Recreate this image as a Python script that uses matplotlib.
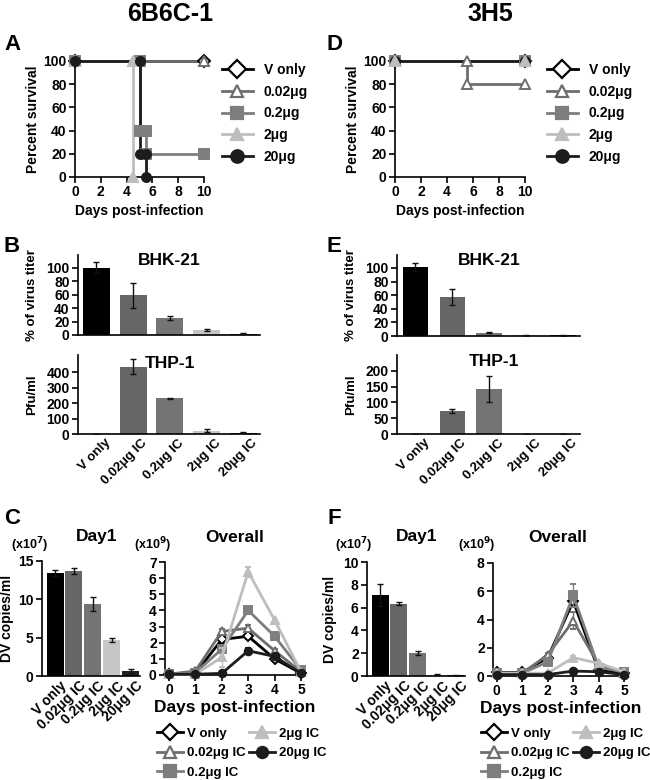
import matplotlib
matplotlib.use("Agg")

import numpy as np
import matplotlib.pyplot as plt
from matplotlib.lines import Line2D
from matplotlib.transforms import ScaledTranslation

plt.rcParams['font.family'] = ['Liberation Sans', 'DejaVu Sans']
plt.rcParams['font.weight'] = 'bold'
plt.rcParams['axes.labelweight'] = 'bold'
plt.rcParams['axes.linewidth'] = 1.2

# ---- data ----
groups = ["V only", "0.02μg", "0.2μg", "2μg", "20μg"]
ic_labels = ["V only", "0.02μg IC", "0.2μg IC", "2μg IC", "20μg IC"]
line_colors = ["#000000", "#6e6e6e", "#7e7e7e", "#bebebe", "#1c1c1c"]
bar_colors = ["#000000", "#666666", "#747474", "#c6c6c6", "#202020"]
markers = ["D", "^", "s", "^", "o"]
marker_faces = ["white", "white", None, None, None]

# survival (Kaplan-Meier steps)
surv_6b6c_t = [[0, 10], [0, 10], [0, 5, 5, 5.5, 5.5, 10], [0, 4.5, 4.5], [0, 5, 5, 5.5, 5.5]]
surv_6b6c_s = [[100, 100], [100, 100], [100, 100, 40, 40, 20, 20], [100, 100, 0], [100, 100, 20, 20, 0]]
surv_3h5_t = [[0, 10], [0, 5.5, 5.5, 10], [0, 10], [0, 10], [0, 10]]
surv_3h5_s = [[100, 100], [100, 100, 80, 80], [100, 100], [100, 100], [100, 100]]

# neutralization / ADE
bhk_6b6c = [100, 59, 25, 7, 2]
bhk_6b6c_err = [8, 19, 3, 1.2, 0.8]
thp_6b6c = [0, 435, 232, 20, 8]
thp_6b6c_err = [0, 48, 3, 10, 3]
bhk_3h5 = [101, 57, 5, 1, 1]
bhk_3h5_err = [6, 12, 1, 0.4, 0.4]
thp_3h5 = [0, 73, 142, 0, 0]
thp_3h5_err = [0, 6, 42, 0, 0]

# viremia day 1 (x10^7)
day1_6b6c = [13.4, 13.7, 9.4, 4.7, 0.6]
day1_6b6c_err = [0.4, 0.35, 0.9, 0.3, 0.25]
day1_3h5 = [7.1, 6.35, 2.0, 0.1, 0.05]
day1_3h5_err = [1.0, 0.15, 0.15, 0.05, 0.03]

# viremia overall (x10^9)
days = [0, 1, 2, 3, 4, 5]
over_6b6c = [[0.05, 0.1, 2.2, 2.4, 1.0, 0.1],
             [0.05, 0.25, 2.7, 2.9, 1.5, 0.2],
             [0.05, 0.15, 1.6, 4.0, 2.4, 0.3],
             [0.05, 0.05, 1.1, 6.4, 3.4, 0.2],
             [0.05, 0.05, 0.1, 1.5, 1.15, 0.1]]
over_6b6c_err = [[0, 0, 0.2, 0.2, 0.1, 0],
                 [0, 0, 0.15, 0.2, 0.1, 0],
                 [0, 0, 0.1, 0.2, 0, 0],
                 [0, 0, 0.6, 0.3, 0, 0],
                 [0, 0, 0, 0.2, 0.1, 0]]
over_3h5 = [[0.25, 0.25, 1.3, 5.3, 0.4, 0.2],
            [0.2, 0.2, 1.5, 3.9, 0.8, 0.2],
            [0.2, 0.2, 1.0, 5.7, 0.6, 0.3],
            [0.2, 0.2, 0.2, 1.3, 0.9, 0.3],
            [0.1, 0.1, 0.1, 0.35, 0.3, 0.1]]
over_3h5_err = [[0, 0, 0.1, 0.3, 0, 0],
                [0, 0, 0.1, 0.6, 0, 0],
                [0, 0, 0.1, 0.8, 0, 0],
                [0, 0, 0, 0.1, 0, 0],
                [0, 0, 0, 0.05, 0, 0]]

W, H = 650, 780
fig = plt.figure(figsize=(6.5, 7.8), dpi=100)


def box(l, r, b, t):
    return [l / W, 1 - b / H, (r - l) / W, (b - t) / H]


def ftext(x, y, s, size, **kw):
    fig.text(x / W, 1 - y / H, s, ha=kw.pop('ha', 'center'), va=kw.pop('va', 'center'),
             fontsize=size, fontweight='bold', **kw)


def style(ax, size=10):
    for s in ['top', 'right']:
        ax.spines[s].set_visible(False)
    ax.tick_params(direction='out', length=4, width=1.2, labelsize=size, pad=2)


def ylab(ax, s, px, size=9.5):
    ax.set_ylabel(s, fontsize=size)
    pos = ax.get_position()
    ax.yaxis.set_label_coords((px / W - pos.x0) / pos.width, 0.5)


def handles(ms):
    return [Line2D([], [], color=line_colors[i], lw=2, marker=markers[i], ms=ms,
                   mfc=marker_faces[i] or line_colors[i], mec=line_colors[i], mew=1.6)
            for i in range(5)]


def survival(ax, ts, ss, mk_order):
    for i in range(5):
        ax.plot(ts[i], ss[i], color=line_colors[i], lw=2, zorder=2, clip_on=False)
    for k, i in enumerate(mk_order):
        ax.plot(ts[i], ss[i], ls='none', marker=markers[i], ms=6.5, mew=1.4,
                mfc=marker_faces[i] or line_colors[i], mec=line_colors[i],
                zorder=3 + k, clip_on=False)
    ax.set_xlim(0, 10)
    ax.set_ylim(0, 100)
    ax.set_xticks([0, 2, 4, 6, 8, 10])
    ax.set_yticks([0, 20, 40, 60, 80, 100])
    ax.set_xlabel("Days post-infection", fontsize=10, labelpad=3)
    style(ax)


def bars(ax, vals, errs, ymax, yticks, width, xlim, labels=None, shift=8, size=9.5):
    x = np.arange(5)
    ax.bar(x, vals, width=width, color=bar_colors, edgecolor='none', zorder=2)
    ax.errorbar(x, vals, yerr=errs, fmt='none', ecolor='#111111', elinewidth=1,
                capsize=2.5, capthick=1, zorder=3)
    ax.set_xlim(*xlim)
    ax.set_ylim(0, ymax)
    ax.set_yticks(yticks)
    style(ax)
    ax.set_xticks(x)
    ax.tick_params(axis='x', length=0)
    if labels is None:
        ax.set_xticklabels([])
    else:
        ax.set_xticklabels(labels, rotation=45, ha='right', va='top',
                           rotation_mode='anchor', fontsize=size)
        for lb in ax.get_xticklabels():
            lb.set_transform(lb.get_transform() + ScaledTranslation(shift / 100, 0, fig.dpi_scale_trans))


def overall(ax, vals, errs, ymax):
    for i in range(5):
        ax.errorbar(days, vals[i], yerr=errs[i], color=line_colors[i], lw=2,
                    marker=markers[i], ms=5.5, mew=1.4, mfc=marker_faces[i] or line_colors[i],
                    mec=line_colors[i], elinewidth=1, capsize=2, ecolor=line_colors[i],
                    clip_on=False, zorder=2 + i)
    ax.set_xlim(-0.15, 5.15)
    ax.set_ylim(0, ymax)
    ax.set_xticks(days)
    style(ax, 10)
    ax.set_xlabel("Days post-infection", fontsize=12.5, labelpad=2)


# ---- A / D survival ----
axA = fig.add_axes(box(75, 204, 177, 61))
survival(axA, surv_6b6c_t, surv_6b6c_s, [0, 1, 2, 3, 4])
ylab(axA, "Percent survival", 40, 10)
axD = fig.add_axes(box(395, 525, 177, 61))
survival(axD, surv_3h5_t, surv_3h5_s, [0, 1, 2, 4, 3])
ylab(axD, "Percent survival", 360, 10)

for ax, x0 in [(axA, 215), (axD, 540)]:
    ax.legend(handles(9), groups, loc='upper left', bbox_to_anchor=(x0 / W, 1 - 56 / H),
              bbox_transform=fig.transFigure, frameon=False, fontsize=10, borderpad=0,
              handlelength=2.2, handletextpad=0.8, labelspacing=0.56)

# ---- B / E ----
xl = (-0.5, 4.45)
axB1 = fig.add_axes(box(78, 260, 335, 255))
bars(axB1, bhk_6b6c, bhk_6b6c_err, 119, [0, 20, 40, 60, 80, 100], 0.73, xl)
ylab(axB1, "% of virus titer", 38, 9.5)
axB2 = fig.add_axes(box(78, 260, 434, 355))
bars(axB2, thp_6b6c, thp_6b6c_err, 510, [0, 100, 200, 300, 400], 0.73, xl, ic_labels)
ylab(axB2, "Pfu/ml", 38, 9.5)

axE1 = fig.add_axes(box(397, 580, 336, 255))
bars(axE1, bhk_3h5, bhk_3h5_err, 119, [0, 20, 40, 60, 80, 100], 0.7, xl)
ylab(axE1, "% of virus titer", 357, 9.5)
axE2 = fig.add_axes(box(397, 580, 434, 355))
bars(axE2, thp_3h5, thp_3h5_err, 250, [0, 50, 100, 150, 200], 0.7, xl, ic_labels)
ylab(axE2, "Pfu/ml", 357, 9.5)

# ---- C / F ----
xd = (-0.69, 4.5)
axC1 = fig.add_axes(box(42, 140, 676, 561))
bars(axC1, day1_6b6c, day1_6b6c_err, 15, [0, 5, 10, 15], 0.9, xd, ic_labels, shift=5, size=10)
ylab(axC1, "DV copies/ml", 14, 10)
axC2 = fig.add_axes(box(165, 305, 675, 562))
overall(axC2, over_6b6c, over_6b6c_err, 7)
axC2.set_yticks(range(8))

axF1 = fig.add_axes(box(367, 465, 676, 562))
bars(axF1, day1_3h5, day1_3h5_err, 10, [0, 2, 4, 6, 8, 10], 0.9, xd, ic_labels, shift=5, size=10)
ylab(axF1, "DV copies/ml", 337, 10)
axF2 = fig.add_axes(box(493, 628, 676, 563))
overall(axF2, over_3h5, over_3h5_err, 8)
axF2.set_yticks([0, 2, 4, 6, 8])

for ax, x0 in [(axC2, 150), (axF2, 474)]:
    ax.legend(handles(8), ic_labels, loc='upper left', bbox_to_anchor=(x0 / W, 1 - 721 / H),
              bbox_transform=fig.transFigure, frameon=False, fontsize=9.5, borderpad=0,
              ncol=2, handlelength=2.0, handletextpad=0.3, labelspacing=0.55,
              columnspacing=0.25)

# ---- free text ----
ftext(170, 14, "6B6C-1", 18)
ftext(490, 14, "3H5", 18)
for s, x, y in [("A", 12, 44), ("D", 334, 44), ("B", 12, 246), ("E", 334, 246),
                ("C", 12, 518), ("F", 334, 518)]:
    ftext(x, y, s, 16)
ftext(169, 261, "BHK-21", 12.5)
ftext(489, 261, "BHK-21", 12.5)
ftext(170, 363, "THP-1", 12.5)
ftext(494, 362, "THP-1", 12.5)
ftext(97, 537, "Day1", 12.5)
ftext(417, 537, "Day1", 12.5)
ftext(235, 537, "Overall", 12.5)
ftext(558, 537, "Overall", 12.5)
ftext(30, 545, "(x10$^{7}$)", 9)
ftext(354, 545, "(x10$^{7}$)", 9)
ftext(153, 545, "(x10$^{9}$)", 9)
ftext(477, 545, "(x10$^{9}$)", 9)

fig.savefig("out.png", dpi=100)
